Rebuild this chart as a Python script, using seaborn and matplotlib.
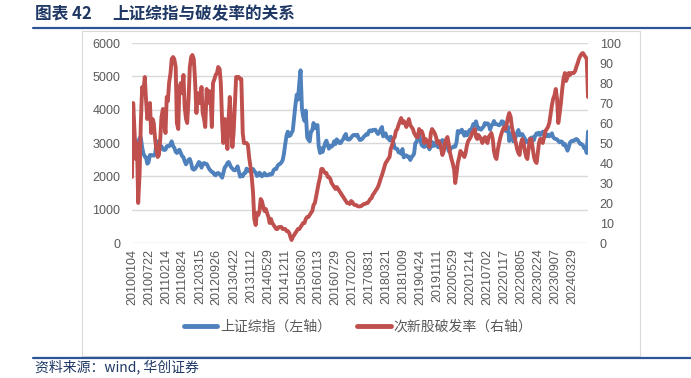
import matplotlib
matplotlib.use('Agg')
import numpy as np
import pandas as pd
import seaborn as sns
import matplotlib.pyplot as plt
from matplotlib.lines import Line2D
from matplotlib.patches import Rectangle

# semi-monthly samples (1st / 15th) plus the last trading day
dates = list(pd.date_range('2010-01-01', '2024-09-15', freq='SMS')) + [pd.Timestamp('2024-09-30')]

# 上证综指 (left axis)
sh_close = [
	3277, 3225, 2990, 3020, 3050, 3020, 3150, 3160, 2870, 2690, 2590, 2570, 2380, 2420, 2640, 2640, 2630, 2620, 2655, 2970, 3050, 3010, 2830, 2900,
	2810, 2790, 2800, 2900, 2910, 2900, 2970, 3050, 2910, 2860, 2740, 2700, 2760, 2800, 2700, 2610, 2570, 2450, 2360, 2430, 2500, 2520, 2390, 2230,
	2200, 2220, 2290, 2350, 2430, 2400, 2260, 2360, 2400, 2380, 2370, 2300, 2220, 2180, 2130, 2120, 2050, 2030, 2090, 2100, 2070, 2020, 1960, 2100,
	2270, 2310, 2400, 2430, 2360, 2280, 2230, 2190, 2180, 2220, 2300, 2160, 1990, 2040, 2000, 2090, 2100, 2230, 2170, 2190, 2140, 2150, 2220, 2160,
	2110, 2010, 2030, 2110, 2060, 2000, 2040, 2100, 2030, 2030, 2040, 2070, 2050, 2070, 2190, 2220, 2220, 2310, 2360, 2370, 2420, 2480, 2680, 2950,
	3230, 3340, 3210, 3230, 3310, 3370, 3800, 4130, 4450, 4300, 4830, 5180, 4050, 3800, 3660, 3970, 3170, 3100, 3050, 3340, 3380, 3600, 3450, 3520,
	3540, 2900, 2700, 2840, 2730, 2860, 3000, 3070, 2940, 2830, 2910, 2890, 2930, 3050, 2970, 3110, 3060, 3000, 3000, 3060, 3120, 3210, 3270, 3120,
	3100, 3110, 3160, 3210, 3240, 3240, 3220, 3250, 3150, 3090, 3100, 3130, 3190, 3220, 3270, 3250, 3360, 3380, 3350, 3390, 3390, 3400, 3320, 3270,
	3310, 3410, 3480, 3200, 3260, 3290, 3160, 3160, 3080, 3190, 3090, 3020, 2850, 2830, 2820, 2720, 2730, 2680, 2820, 2570, 2600, 2630, 2590, 2590,
	2490, 2570, 2620, 2680, 2990, 3020, 3170, 3250, 3080, 2940, 2900, 2880, 3040, 2920, 2900, 2810, 2890, 3030, 2910, 3000, 2960, 2900, 2870, 2970,
	3050, 3090, 2980, 2910, 2880, 2890, 2750, 2810, 2860, 2870, 2900, 2890, 3030, 3360, 3310, 3360, 3400, 3300, 3220, 3330, 3230, 3310, 3390, 3370,
	3470, 3570, 3530, 3650, 3510, 3420, 3440, 3400, 3450, 3490, 3600, 3560, 3590, 3560, 3400, 3520, 3560, 3660, 3570, 3570, 3550, 3530, 3560, 3650,
	3640, 3520, 3360, 3460, 3480, 3060, 3280, 3210, 3050, 3080, 3190, 3300, 3390, 3230, 3260, 3270, 3190, 3130, 3020, 3070, 3000, 3130, 3160, 3170,
	3090, 3220, 3290, 3250, 3310, 3240, 3270, 3340, 3320, 3300, 3200, 3250, 3200, 3230, 3290, 3180, 3130, 3120, 3110, 3060, 3020, 3050, 3030, 2940,
	2970, 2880, 2770, 2870, 3010, 3050, 3070, 3060, 3100, 3120, 3090, 3030, 2970, 2970, 2930, 2850, 2840, 2700, 3340,
]

# 次新股破发率 % (right axis)
break_rate = [
	33, 70, 55, 42, 50, 20, 35, 60, 78, 75, 83, 72, 62, 65, 70, 55, 62, 60, 52, 47, 43, 44, 52, 63,
	67, 60, 55, 73, 71, 80, 85, 92, 93, 92, 88, 60, 57, 78, 80, 75, 84, 68, 62, 60, 73, 88, 93, 94,
	92, 82, 65, 75, 70, 70, 78, 65, 62, 58, 77, 70, 76, 75, 58, 80, 82, 84, 85, 88, 87, 80, 60, 50,
	62, 55, 47, 62, 73, 60, 48, 55, 70, 83, 83, 83, 82, 82, 55, 50, 50, 50, 49, 43, 38, 33, 25, 12,
	9, 15, 14, 16, 22, 21, 18, 16, 17, 15, 13, 10, 12, 10, 9, 8, 7, 7, 8, 8, 8, 7, 7, 7,
	6, 6, 5, 3, 1.5, 3, 4, 5, 6, 7, 7, 8, 9, 10, 10, 12, 13, 13, 14, 15, 16, 19, 20, 23,
	27, 30, 33, 37, 37, 36, 35, 35, 33, 33, 32, 30, 29, 28, 27, 28, 27, 26, 25, 24, 23, 22, 21, 20,
	20, 19.5, 21, 20.5, 19.5, 19, 19, 18.5, 18.3, 18.3, 18.5, 19, 19.5, 19.5, 20, 20, 21, 22, 22.5, 24, 25, 26, 27, 28,
	30, 32, 34, 36, 38, 40, 41, 42, 43, 47, 49, 52, 53, 56, 57, 59, 61, 62.5, 60, 61, 60, 58, 60, 62,
	59, 58, 57, 55, 54, 53, 53, 57, 55, 56, 54, 50, 52, 51, 50, 48, 55, 57, 56, 55, 53, 50, 51, 50,
	47, 44, 46, 50, 52, 53, 49, 45, 42, 40, 37, 30, 35, 40, 43, 46, 45, 44, 43, 45, 49, 51, 52, 53,
	55, 56, 57, 53, 52, 54, 53, 52, 50, 52, 53, 51, 50, 53, 54, 55, 52, 46, 43, 42, 47, 50, 53, 55,
	57, 58, 57, 60, 63, 65, 63, 58, 55, 53, 50, 47, 45, 44, 50, 52, 50, 46, 43, 42, 48, 52, 52, 48,
	43, 41, 40, 45, 50, 52, 52, 50, 53, 56, 57, 58, 60, 64, 69, 72, 74, 77, 72, 60, 65, 70, 77, 82,
	85, 81, 83, 85, 84, 85, 85, 85, 86, 88, 90, 92, 93.5, 94.5, 95, 94, 93, 92, 73,
]

tick_labels = ['20100104', '20100722', '20110214', '20110824', '20120315', '20120926', '20130422',
	'20131112', '20140529', '20141211', '20150630', '20160113', '20160729', '20170220', '20170831',
	'20180321', '20181009', '20190424', '20191111', '20200529', '20201214', '20210702', '20220117',
	'20220805', '20230224', '20230907', '20240329']

df = pd.DataFrame({'date': dates, 'sh': sh_close, 'rate': break_rate})

sns.set_theme(style='white')
plt.rcParams['font.family'] = ['Liberation Sans', 'Noto Sans CJK SC']

W, H = 691, 378
fig = plt.figure(figsize=(W / 100, H / 100), dpi=100)

blue = '#4F81BD'
red = '#C0504D'
grey = '#595959'
navy = '#1F3864'

# plot area in pixels
x0, x1, yTop, yBot = 132, 588, 43, 243
ax = fig.add_axes([x0 / W, 1 - yBot / H, (x1 - x0) / W, (yBot - yTop) / H])
ax2 = ax.twinx()

sns.lineplot(data=df, x='date', y='sh', ax=ax, color=blue, lw=2.8, legend=False)
sns.lineplot(data=df, x='date', y='rate', ax=ax2, color=red, lw=2.8, legend=False)

ax.set_ylim(0, 6000)
ax.set_yticks(np.arange(0, 6001, 1000))
ax2.set_ylim(0, 100)
ax2.set_yticks(np.arange(0, 101, 10))
ax.set_xlim(dates[0], dates[-1])

ax.grid(axis='y', color='#D9D9D9', lw=1)
ax.grid(axis='x', visible=False)
ax.set_axisbelow(True)

tickPos = pd.to_datetime(tick_labels, format='%Y%m%d')
ax.set_xticks(tickPos)
ax.set_xticklabels(tick_labels, rotation=90)

for a in [ax, ax2]:
	for s in a.spines.values():
		s.set_visible(False)
	a.set_xlabel('')
	a.set_ylabel('')
	a.tick_params(axis='both', length=0, colors=grey, labelsize=9)
ax.tick_params(axis='y', pad=8.5)
ax2.tick_params(axis='y', pad=8.5)
ax.tick_params(axis='x', pad=4)

# legend
handles = [Line2D([], [], color=blue, lw=3.5), Line2D([], [], color=red, lw=3.5)]
labels = ['上证综指（左轴）', '次新股破发率（右轴）']
fig.legend(handles, labels, loc='center', bbox_to_anchor=(0.518, 1 - 327 / H), ncol=2,
	frameon=False, handlelength=2.4, handletextpad=0.2, columnspacing=1.9,
	prop={'family': 'Noto Sans CJK SC', 'size': 10}, labelcolor=grey)

# chart frame, header and footer lines
fig.patches.append(Rectangle((82 / W, 1 - 356 / H), (640 - 82) / W, (356 - 31) / H,
	transform=fig.transFigure, fill=False, edgecolor='#D9D9D9', lw=0.8))
fig.add_artist(Line2D([33 / W, 1], [1 - 28 / H] * 2, color='#2F5496', lw=1.6))
fig.add_artist(Line2D([33 / W, 1], [1 - 358 / H] * 2, color='#2F5496', lw=1.6))

fig.text(35 / W, 1 - 14 / H, '图表 42', color=navy, fontsize=12, fontweight='bold',
	family=['Noto Sans CJK SC'], va='center')
fig.text(112 / W, 1 - 14 / H, '上证综指与破发率的关系', color=navy, fontsize=12, fontweight='bold',
	family=['Noto Sans CJK SC'], va='center')
fig.text(35 / W, 1 - 367 / H, '资料来源：wind, 华创证券', color=navy, fontsize=10, style='italic',
	family=['Noto Sans CJK SC'], va='center')

fig.savefig('out.png', dpi=100)
